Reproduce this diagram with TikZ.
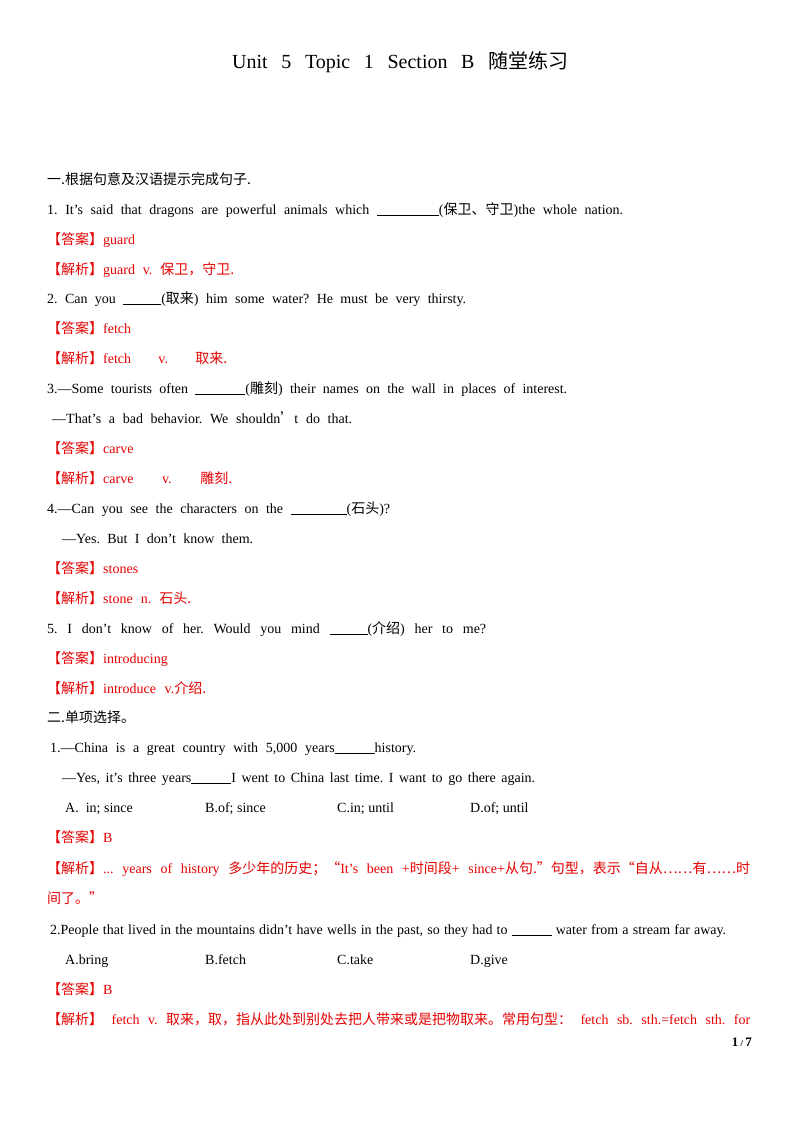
\documentclass[tikz,border=0pt]{standalone}
\usepackage{fontspec}
\setmainfont{Liberation Serif}
\newfontfamily\cjk{Noto Sans CJK SC}
\newcommand\C[1]{{\cjk #1}}
\definecolor{ans}{RGB}{230,0,0}
\newcommand\blank[1]{\rule[-1.5pt]{#1pt}{0.5pt}}
\newcommand\bblank[1]{\rule[-1.5pt]{#1pt}{1pt}}
\frenchspacing
\begin{document}
\begin{tikzpicture}[x=1pt,y=-1pt,font=\fontsize{14}{16}\selectfont\frenchspacing,
  ln/.style={anchor=base west,inner sep=0pt},
  red/.style={ln,text=ans}]
\useasboundingbox (0,0) rectangle (800,1132);
\newcommand\Ln[5][ln]{\node[#1] at (#2,#3) {\makebox[#4pt][s]{#5}};}
\node[ln,font=\fontsize{20}{24}\selectfont] (title) at (232,68) {\makebox[336pt][s]{Unit 5 Topic 1 Section B \C{随堂练习}}};
\node[ln] (h1) at (47,184) {\C{一.根据句意及汉语提示完成句子.}};
\Ln{47}{214}{576}{1. It’s said that dragons are powerful animals which \blank{62}(\C{保卫、守卫})the whole nation.}
\Ln[red]{47}{244}{90}{\C{【答案】}guard}
\Ln[red]{47}{274}{187}{\C{【解析】}guard v. \C{保卫，守卫.}}
\Ln{47}{303}{419}{2. Can you \blank{38}(\C{取来}) him some water? He must be very thirsty.}
\Ln[red]{47}{333}{86}{\C{【答案】}fetch}
\Ln[red]{47}{363}{180}{\C{【解析】}fetch v. \C{取来.}}
\Ln{47}{393}{520}{3.—Some tourists often \blank{50}(\C{雕刻}) their names on the wall in places of interest.}
\Ln{52}{423}{300}{—That’s a bad behavior. We shouldn\C{’}t do that.}
\Ln[red]{47}{453}{88}{\C{【答案】}carve}
\Ln[red]{47}{483}{185}{\C{【解析】}carve v. \C{雕刻.}}
\Ln{47}{513}{343}{4.—Can you see the characters on the \blank{56}(\C{石头})?}
\Ln{62}{543}{191}{—Yes. But I don’t know them.}
\Ln[red]{47}{573}{93}{\C{【答案】}stones}
\Ln[red]{47}{603}{144}{\C{【解析】}stone n. \C{石头.}}
\Ln{47}{633}{439}{5. I don’t know of her. Would you mind \blank{38}(\C{介绍}) her to me?}
\Ln[red]{47}{663}{123}{\C{【答案】}introducing}
\Ln[red]{47}{693}{159}{\C{【解析】}introduce v.\C{介绍.}}
\node[ln] (h2) at (47,722) {\C{二.单项选择。}};
\Ln{50}{752}{366}{1.—China is a great country with 5,000 years\bblank{40}history.}
\Ln{62}{782}{473}{—Yes, it’s three years\blank{40}I went to China last time. I want to go there again.}
\node[ln] (o1a) at (65,812) {A.\ \ in;\ since};
\node[ln] (o1b) at (205,812) {B.of;\ since};
\node[ln] (o1c) at (337,812) {C.in;\ until};
\node[ln] (o1d) at (470,812) {D.of;\ until};
\node[red] (a1) at (47,842) {\C{【答案】}B};
\Ln[red]{47}{873}{703}{\C{【解析】}... years of history \C{多少年的历史；“}It's been +\C{时间段}+ since+\C{从句.”句型，表示“自从……有……时}}
\node[red] (a1b) at (47,903) {\C{间了。”}};
\Ln{50}{934}{676}{2.People that lived in the mountains didn’t have wells in the past, so they had to \blank{40} water from a stream far away.}
\node[ln] (o2a) at (65,964) {A.bring};
\node[ln] (o2b) at (205,964) {B.fetch};
\node[ln] (o2c) at (337,964) {C.take};
\node[ln] (o2d) at (470,964) {D.give};
\node[red] (a2) at (47,994) {\C{【答案】}B};
\Ln[red]{47}{1024}{703}{\C{【解析】} fetch v. \C{取来，取，指从此处到别处去把人带来或是把物取来。常用句型：} fetch sb. sth.=fetch sth. for}
\node[anchor=base east,inner sep=0pt,font=\fontsize{13}{15}\selectfont\bfseries] (pg) at (752,1046) {1\,{\fontsize{9}{10}\selectfont/}\,7};
\end{tikzpicture}
\end{document}
